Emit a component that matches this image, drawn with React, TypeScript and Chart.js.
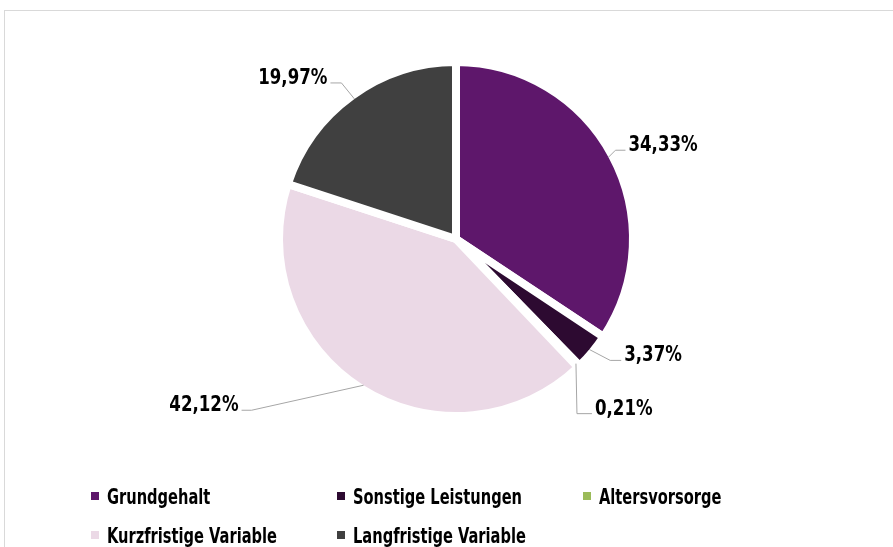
import React, { useEffect, useRef } from "react";
import { Chart, registerables } from "chart.js";

Chart.register(...registerables);

const categories = [
  "Grundgehalt",
  "Sonstige Leistungen",
  "Altersvorsorge",
  "Kurzfristige Variable",
  "Langfristige Variable",
];
const shares = [34.33, 3.37, 0.21, 42.12, 19.97];
const colors = ["#5E176B", "#2D0A31", "#9BBB59", "#EBD9E6", "#404040"];

// leader-line layout per label: elbow and end offsets from the slice anchor
const leaderElbow = [
  [7, -7],
  [21, 11],
  [1, 50],
  [-112, 25],
  [-13, -16],
];
const leaderEnd = [
  [17, -7],
  [32, 11],
  [16, 50],
  [-122, 25],
  [-24, -16],
];

const legendRows = [
  [0, 1, 2],
  [3, 4],
];

const FONT = '"DejaVu Sans Condensed", "DejaVu Sans", sans-serif';
const LABEL_SQUEEZE = 0.84;
const LEGEND_SQUEEZE = 0.74;

const fmt = (v: number) => v.toFixed(2).replace(".", ",") + "%";

const labelPlugin = {
  id: "pieLabels",
  afterDraw(chart: any) {
    const ctx = chart.ctx;
    const meta = chart.getDatasetMeta(0);
    ctx.save();
    meta.data.forEach((arc: any, i: number) => {
      const p = arc.getProps(["x", "y", "startAngle", "endAngle", "outerRadius"], true);
      const mid = (p.startAngle + p.endAngle) / 2;
      const r = p.outerRadius - 4;
      const ax = p.x + Math.cos(mid) * r;
      const ay = p.y + Math.sin(mid) * r;
      const ex = ax + leaderElbow[i][0];
      const ey = ay + leaderElbow[i][1];
      const tx = ax + leaderEnd[i][0];
      const ty = ay + leaderEnd[i][1];
      ctx.strokeStyle = "#A6A6A6";
      ctx.lineWidth = 1;
      ctx.beginPath();
      ctx.moveTo(ax, ay);
      ctx.lineTo(ex, ey);
      ctx.lineTo(tx, ty);
      ctx.stroke();
      const right = leaderEnd[i][0] > 0;
      ctx.save();
      ctx.translate(tx + (right ? 3 : -3), ty + 1);
      ctx.scale(LABEL_SQUEEZE, 1);
      ctx.fillStyle = "#000000";
      ctx.font = `bold 22px ${FONT}`;
      ctx.textAlign = right ? "left" : "right";
      ctx.textBaseline = "alphabetic";
      ctx.fillText(fmt(shares[i]), 0, 0);
      ctx.restore();
    });
    ctx.restore();
  },
};

export default function App() {
  const ref = useRef<HTMLCanvasElement | null>(null);

  useEffect(() => {
    if (!ref.current) return;
    const chart = new Chart(ref.current, {
      type: "pie",
      data: {
        labels: categories,
        datasets: [
          {
            data: shares,
            backgroundColor: colors,
            borderColor: "#FFFFFF",
            borderWidth: 8,
          },
        ],
      },
      options: {
        responsive: false,
        animation: false,
        devicePixelRatio: 1,
        radius: 177,
        layout: { padding: { left: 256, right: 237, top: 39, bottom: 108 } },
        plugins: {
          legend: { display: false },
          tooltip: { enabled: false },
        },
      },
      plugins: [labelPlugin],
    });
    return () => chart.destroy();
  }, []);

  const colX = [91, 337, 583];
  const rowY = [496, 535];

  return (
    <div
      style={{
        position: "fixed",
        left: 0,
        top: 0,
        width: 893,
        height: 547,
        background: "#FFFFFF",
        overflow: "hidden",
      }}
    >
      <div
        style={{
          position: "absolute",
          left: 4,
          top: 10,
          width: 1000,
          height: 1000,
          border: "1px solid #D9D9D9",
        }}
      />
      <canvas
        ref={ref}
        width={893}
        height={547}
        style={{ position: "absolute", left: 0, top: 0, width: 893, height: 547 }}
      />
      {legendRows.map((row, ri) =>
        row.map((idx, ci) => (
          <div
            key={idx}
            style={{
              position: "absolute",
              left: colX[ci],
              top: rowY[ri] - 14,
              height: 28,
              display: "flex",
              alignItems: "center",
              fontFamily: FONT,
              fontWeight: "bold",
              fontSize: 22,
              color: "#000000",
              whiteSpace: "nowrap",
            }}
          >
            <span
              style={{
                display: "inline-block",
                width: 8,
                height: 8,
                background: colors[idx],
                marginRight: 8,
                flex: "none",
              }}
            />
            <span
              style={{
                display: "inline-block",
                transform: `scaleX(${LEGEND_SQUEEZE})`,
                transformOrigin: "left center",
              }}
            >
              {categories[idx]}
            </span>
          </div>
        ))
      )}
    </div>
  );
}
